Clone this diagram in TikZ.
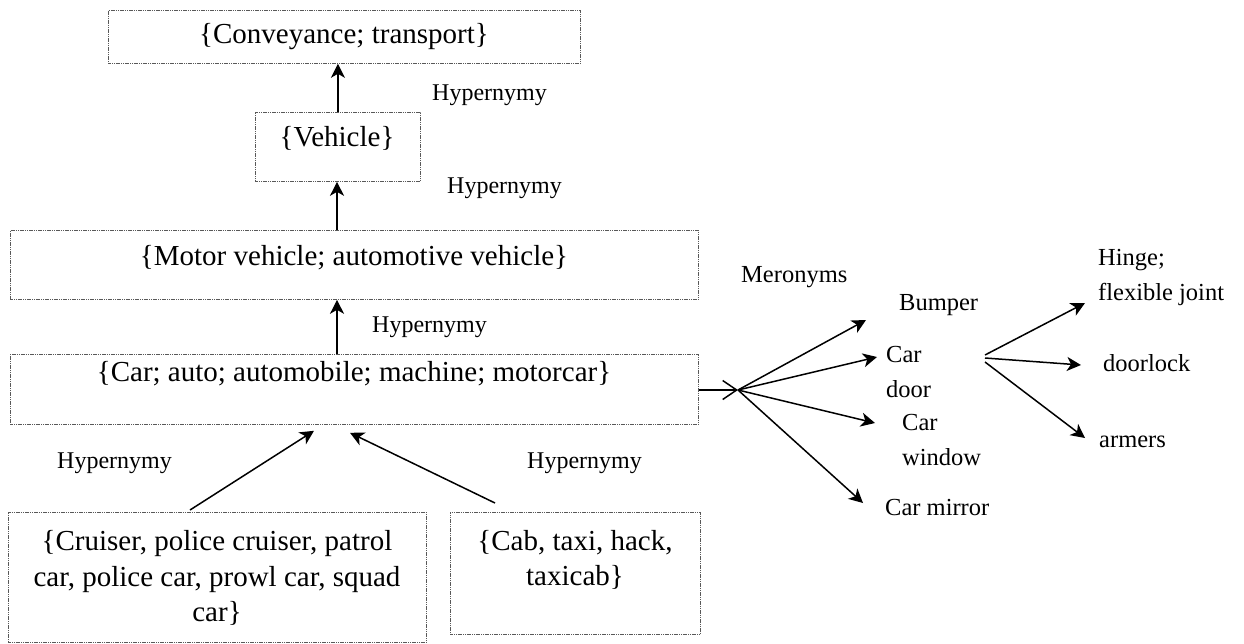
\documentclass[tikz,border=0pt]{standalone}
\usepackage{fontspec}
\setmainfont{Liberation Serif}
\usetikzlibrary{arrows.meta}
\begin{document}
\begin{tikzpicture}[x=1pt,y=-1pt,
  synbox/.style={draw=black!65, line width=0.8pt, dash pattern=on 1.2pt off 0.6pt,
                 inner sep=0pt, anchor=north west},
  syntext/.style={font=\fontsize{29}{35.5}\selectfont, align=center, inner sep=0pt},
  rel/.style={font=\fontsize{24}{35}\selectfont, inner sep=0pt, anchor=west},
  part/.style={font=\fontsize{24.5}{35}\selectfont, inner sep=0pt, anchor=west, align=left},
  up/.style={line width=1.5pt, -{Stealth[length=14pt,width=14pt,inset=4pt]}},
  openarrow/.style={line width=1.5pt, -{Straight Barb[length=14pt,width=19pt]}},
]
\useasboundingbox (0,0) rectangle (1244,643);

% synset boxes
\node[synbox, minimum width=472pt, minimum height=53pt] (conv) at (108,10) {};
\node[synbox, minimum width=165pt, minimum height=69pt] (veh) at (255,112) {};
\node[synbox, minimum width=688pt, minimum height=69pt] (motor) at (10,230) {};
\node[synbox, minimum width=688pt, minimum height=70pt] (car) at (10,354) {};
\node[synbox, minimum width=418pt, minimum height=130pt] (cruiser) at (8,512) {};
\node[synbox, minimum width=250pt, minimum height=122pt] (cab) at (450,512) {};

% synset texts
\node[syntext] (convt) at (344,37) {\{Conveyance; transport\}};
\node[syntext] (veht) at (337,138) {\{Vehicle\}};
\node[syntext] (motort) at (354,258) {\{Motor vehicle; automotive vehicle\}};
\node[syntext] (cart) at (354,374) {\{Car; auto; automobile; machine; motorcar\}};
\node[syntext] (cruisert) at (217,578) {\{Cruiser, police cruiser, patrol\\car, police car, prowl car, squad\\car\}};
\node[syntext] (cabt) at (575,560) {\{Cab, taxi, hack,\\taxicab\}};

% relation labels
\node[rel] (h1) at (432,95) {Hypernymy};
\node[rel] (h2) at (447,188) {Hypernymy};
\node[rel] (h3) at (372,327) {Hypernymy};
\node[rel] (h4) at (57,463) {Hypernymy};
\node[rel] (h5) at (527,463) {Hypernymy};
\node[part] (mero) at (741,277) {Meronyms};

% parts
\node[part] (bumper) at (899,305) {Bumper};
\node[part] (door) at (886,372.5) {Car\\door};
\node[part] (window) at (902,440) {Car\\window};
\node[part] (mirror) at (885,507) {Car mirror};
\node[part] (hinge) at (1098,277.5) {Hinge;\\flexible joint};
\node[part] (lock) at (1103,363) {doorlock};
\node[part] (armers) at (1099,442) {armers};

% hypernymy arrows
\draw[up] (veh.north) -- (veh.north |- conv.south);
\draw[up] ([xshift=327pt]motor.north west) -- ([xshift=327pt]veh.south west -| motor.north west);
\draw[up] ([xshift=327pt]car.north west) -- ([xshift=327pt]motor.south west);
\draw[up] ([xshift=182pt,yshift=2pt]cruiser.north west) -- ([xshift=304pt,yshift=-6pt]car.south west);
\draw[up] ([xshift=45pt,yshift=9pt]cab.north west) -- ([xshift=340pt,yshift=-8pt]car.south west);

% meronym arrows
\coordinate (hub) at (738,390);
\draw[openarrow] (car.east |- hub) -- (hub);
\draw[up] (hub) -- ([xshift=-33pt,yshift=-15pt]bumper.west);
\draw[up] (hub) -- ([xshift=-9pt,yshift=15.5pt]door.west);
\draw[up] (hub) -- ([xshift=-27pt,yshift=17pt]window.west);
\draw[up] (hub) -- ([xshift=-22pt,yshift=4pt]mirror.west);

\coordinate (dhub) at (985,358);
\draw[up] ([yshift=3pt]dhub) -- ([xshift=-13pt,yshift=-25.5pt]hinge.west);
\draw[up] (dhub) -- ([xshift=-22pt,yshift=-2pt]lock.west);
\draw[up] ([yshift=-4pt]dhub) -- ([xshift=-14pt,yshift=4pt]armers.west);
\end{tikzpicture}
\end{document}
